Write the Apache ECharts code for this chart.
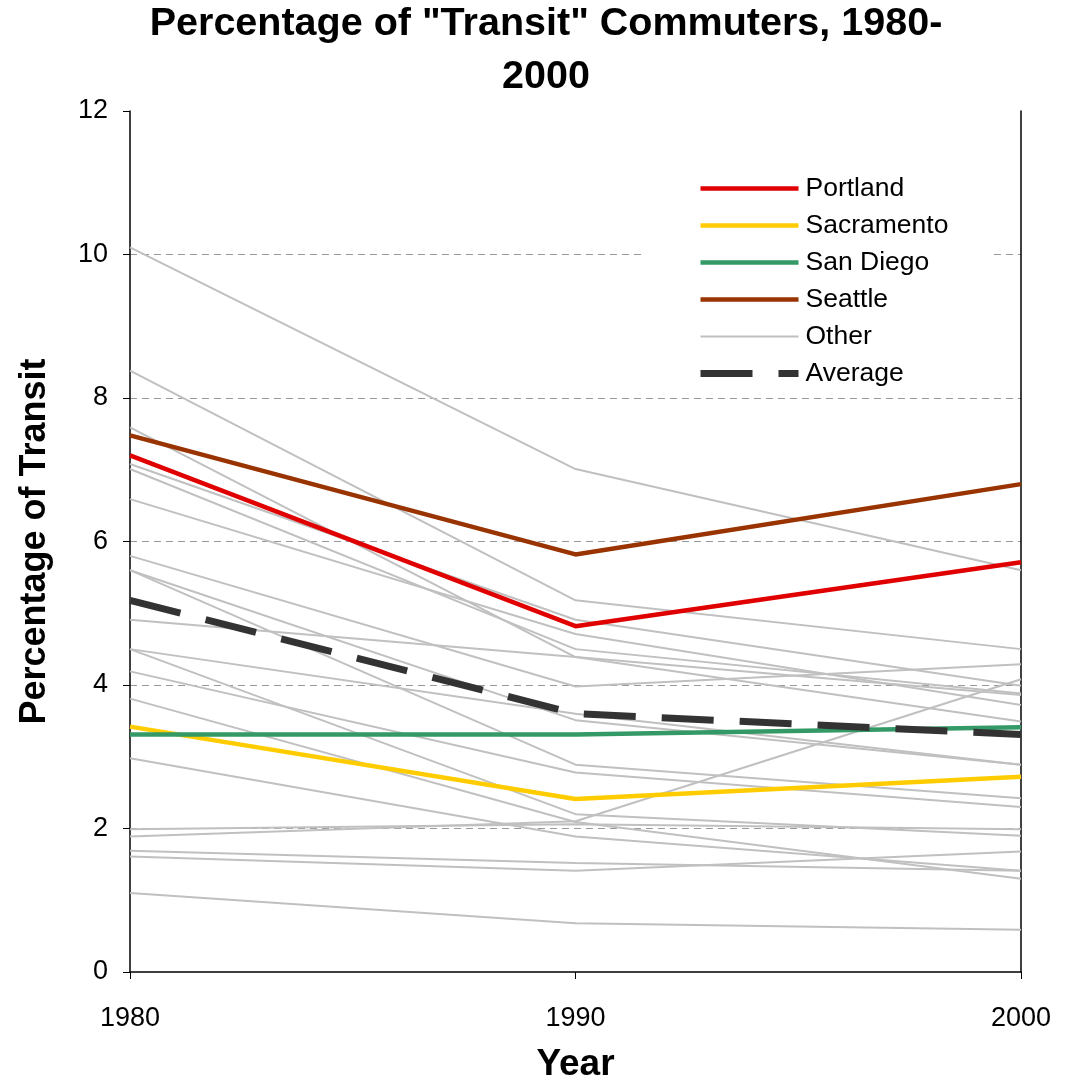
<!DOCTYPE html>
<html>
<head>
<meta charset="utf-8">
<script src="https://cdn.jsdelivr.net/npm/echarts@6/dist/echarts.min.js"></script>
<style>
  html, body { margin: 0; padding: 0; background: #fff; }
  #chart { width: 1074px; height: 1082px; }
</style>
</head>
<body>
<div id="chart"></div>
<script>
// Census years on the x axis
const years = [1980, 1990, 2000];

// Share of commuters using transit (%), by year
const portland   = [7.2, 4.82, 5.71];
const sacramento = [3.42, 2.41, 2.72];
const sanDiego   = [3.31, 3.31, 3.41];
const seattle    = [7.48, 5.82, 6.80];
const average    = [5.18, 3.6, 3.31];

// Remaining metro areas, drawn in light grey
const others = [
  [10.1, 7.01, 5.6],
  [8.38, 5.18, 4.5],
  [7.59, 4.39, 3.49],
  [7.08, 4.91, 3.99],
  [7.01, 4.5, 3.88],
  [6.59, 4.71, 3.72],
  [5.8, 3.98, 4.29],
  [5.6, 3.51, 2.89],
  [5.6, 2.89, 2.42],
  [4.91, 4.39, 3.86],
  [4.5, 3.6, 2.89],
  [4.5, 2.2, 1.9],
  [4.19, 2.78, 2.3],
  [3.81, 2.09, 1.3],
  [2.98, 1.89, 1.41],
  [1.99, 2.06, 1.99],
  [1.89, 2.1, 4.08],
  [1.69, 1.52, 1.41],
  [1.61, 1.41, 1.68],
  [1.1, 0.68, 0.59]
];

const FONT = '"Liberation Sans", Arial, Helvetica, sans-serif';

function pairs(values) {
  return years.map((y, i) => [y, values[i]]);
}

function lineSeries(name, values, color, width, dash) {
  return {
    name: name,
    type: 'line',
    data: pairs(values),
    symbol: 'none',
    silent: true,
    animation: false,
    color: color,
    itemStyle: { color: color },
    lineStyle: { color: color, width: width, type: dash || 'solid', cap: 'butt' }
  };
}

const series = [];
others.forEach(v => series.push(lineSeries('Other', v, '#c0c0c0', 2)));
series.push(lineSeries('Sacramento', sacramento, '#ffcc00', 4.5));
series.push(lineSeries('San Diego', sanDiego, '#339966', 4.5));
series.push(lineSeries('Seattle', seattle, '#993300', 4.5));
series.push(lineSeries('Portland', portland, '#e00000', 4.5));
series.push(lineSeries('Average', average, '#333333', 7, [52, 26]));

const chart = echarts.init(document.getElementById('chart'), null, { renderer: 'canvas' });
chart.setOption({
  backgroundColor: '#ffffff',
  animation: false,
  title: {
    text: 'Percentage of "Transit" Commuters, 1980-\n2000',
    left: 541,
    top: -7,
    textAlign: 'center',
    textStyle: {
      fontFamily: FONT,
      fontSize: 39.5,
      fontWeight: 'bold',
      color: '#000',
      lineHeight: 53
    }
  },
  legend: {
    orient: 'vertical',
    left: 645,
    top: 161,
    padding: [14, 42, 6, 52],
    backgroundColor: '#ffffff',
    itemWidth: 98,
    itemHeight: 14,
    itemGap: 10,
    itemStyle: { opacity: 0 },
    lineStyle: { width: 'inherit' },
    data: ['Portland', 'Sacramento', 'San Diego', 'Seattle', 'Other', 'Average'],
    textStyle: { fontFamily: FONT, fontSize: 26.5, color: '#000', lineHeight: 26, padding: [0, 0, 0, 2] },
    selectedMode: false
  },
  grid: { left: 130, right: 53, top: 111, bottom: 110, containLabel: false, outerBoundsMode: 'none' },
  xAxis: {
    type: 'value',
    min: 1980,
    max: 2000,
    interval: 10,
    name: 'Year',
    nameLocation: 'middle',
    nameGap: 74,
    nameTextStyle: { fontFamily: FONT, fontSize: 37, fontWeight: 'bold', color: '#000' },
    axisLine: { show: true, lineStyle: { color: '#000', width: 1.5 } },
    axisTick: { show: true, inside: false, length: 7, lineStyle: { color: '#000' } },
    axisLabel: {
      fontFamily: FONT, fontSize: 27, color: '#000', margin: 33,
      formatter: v => String(v)
    },
    splitLine: { show: false }
  },
  yAxis: [{
    type: 'value',
    min: 0,
    max: 12,
    interval: 2,
    name: 'Percentage of Transit',
    nameLocation: 'middle',
    nameGap: 77,
    nameTextStyle: { fontFamily: FONT, fontSize: 36, fontWeight: 'bold', color: '#000' },
    axisLine: { show: true, lineStyle: { color: '#000', width: 1.5 } },
    axisTick: { show: true, inside: false, length: 7, lineStyle: { color: '#000' } },
    axisLabel: { fontFamily: FONT, fontSize: 27, color: '#000', margin: 22 },
    splitLine: {
      show: true,
      showMinLine: false,
      showMaxLine: false,
      lineStyle: { color: '#999999', width: 1, type: [7, 5] }
    }
  }, {
    type: 'value',
    position: 'right',
    min: 0,
    max: 12,
    interval: 2,
    axisLine: { show: true, lineStyle: { color: '#000', width: 1.5 } },
    axisTick: { show: false },
    axisLabel: { show: false },
    splitLine: { show: false }
  }],
  series: series
});
</script>
</body>
</html>
